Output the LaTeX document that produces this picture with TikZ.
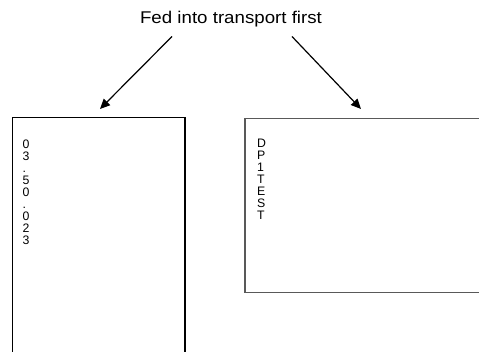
\documentclass[tikz,border=0pt]{standalone}
\usepackage{fontspec}
\setmainfont{Liberation Sans}
\usetikzlibrary{arrows.meta}
\tikzset{
  titletext/.style={inner sep=0pt, font=\fontsize{17}{20}\selectfont},
  coltext/.style={inner sep=0pt, anchor=north west, align=left, font=\fontsize{12.3}{12}\selectfont},
  boxline/.style={line width=1.3pt},
  arr/.style={line width=1.2pt, -{Triangle[length=10pt,width=9pt]}},
}
\begin{document}
\begin{tikzpicture}[x=1pt,y=-1pt]
\useasboundingbox (0,0) rectangle (479,352);
\clip (0,0) rectangle (479,352);
\fill[white] (0,0) rectangle (479,352);
% boxes
\draw[boxline, black] (12.5,117.5) rectangle (185,360);
\draw[boxline, black!65] (245,118.5) rectangle (490,292.5);
\coordinate (lb) at (100,109);
\coordinate (rb) at (361,109);
% title
\node[titletext, anchor=base, xscale=1.1] (title) at (231,24) {Fed into transport first};
\coordinate (ls) at (172,36.5);
\coordinate (rs) at (292,36.5);
% column texts
\node[coltext] (lt) at (22.3,139.6) {0\\3\\.\\5\\0\\.\\0\\2\\3};
\node[coltext] (rt) at (257,138.8) {D\\P\\1\\T\\E\\S\\T};
% arrows
\draw[arr] (ls) -- (lb);
\draw[arr] (rs) -- (rb);
\end{tikzpicture}
\end{document}
